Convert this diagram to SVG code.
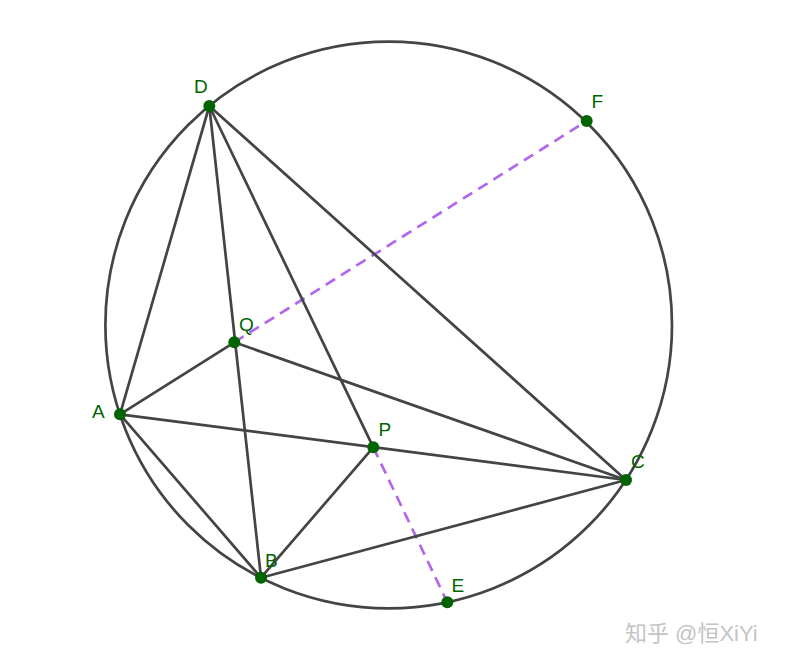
<svg xmlns="http://www.w3.org/2000/svg" width="785" height="665" viewBox="0 0 785 665">
<style>
.ln{stroke:#444;stroke-width:2.7;fill:none;stroke-linecap:round}
.ds{stroke:#b266ee;stroke-width:2.7;fill:none;stroke-dasharray:11 7}
.pt{fill:#006400}
.lb{font-family:"Liberation Sans",Arial,sans-serif;font-size:19px;fill:#006400}
.wm{font-family:"Liberation Sans","Noto Sans CJK SC",sans-serif;font-size:22px;fill:#c4c4c4}
</style>
<rect width="785" height="665" fill="#fff"/>
<g id="connectors">
<circle class="ln" cx="388.7" cy="325" r="283.3"/>
<line class="ds" x1="234.3" y1="342.3" x2="586.7" y2="121"/>
<line class="ds" x1="373.3" y1="447.3" x2="447.3" y2="602.3"/>
<line class="ln" x1="209.3" y1="106" x2="120" y2="414.3"/>
<line class="ln" x1="209.3" y1="106" x2="261" y2="577.7"/>
<line class="ln" x1="209.3" y1="106" x2="373.3" y2="447.3"/>
<line class="ln" x1="209.3" y1="106" x2="626" y2="480"/>
<line class="ln" x1="120" y1="414.3" x2="234.3" y2="342.3"/>
<line class="ln" x1="120" y1="414.3" x2="626" y2="480"/>
<line class="ln" x1="120" y1="414.3" x2="261" y2="577.7"/>
<line class="ln" x1="234.3" y1="342.3" x2="626" y2="480"/>
<line class="ln" x1="373.3" y1="447.3" x2="261" y2="577.7"/>
<line class="ln" x1="261" y1="577.7" x2="626" y2="480"/>
</g>
<g id="D"><circle class="pt" cx="209.3" cy="106" r="6"/><text class="lb" x="194" y="93">D</text></g>
<g id="F"><circle class="pt" cx="586.7" cy="121" r="6"/><text class="lb" x="591.5" y="108">F</text></g>
<g id="Q"><circle class="pt" cx="234.3" cy="342.3" r="6"/><text class="lb" x="239" y="331">Q</text></g>
<g id="A"><circle class="pt" cx="120" cy="414.3" r="6"/><text class="lb" x="92" y="418">A</text></g>
<g id="P"><circle class="pt" cx="373.3" cy="447.3" r="6"/><text class="lb" x="378.5" y="436">P</text></g>
<g id="C"><circle class="pt" cx="626" cy="480" r="6"/><text class="lb" x="631" y="468">C</text></g>
<g id="B"><circle class="pt" cx="261" cy="577.7" r="6"/><text class="lb" x="265" y="567">B</text></g>
<g id="E"><circle class="pt" cx="447.3" cy="602.3" r="6"/><text class="lb" x="451.5" y="592">E</text></g>
<text class="wm" x="625" y="641">知乎 @恒XiYi</text>
</svg>
